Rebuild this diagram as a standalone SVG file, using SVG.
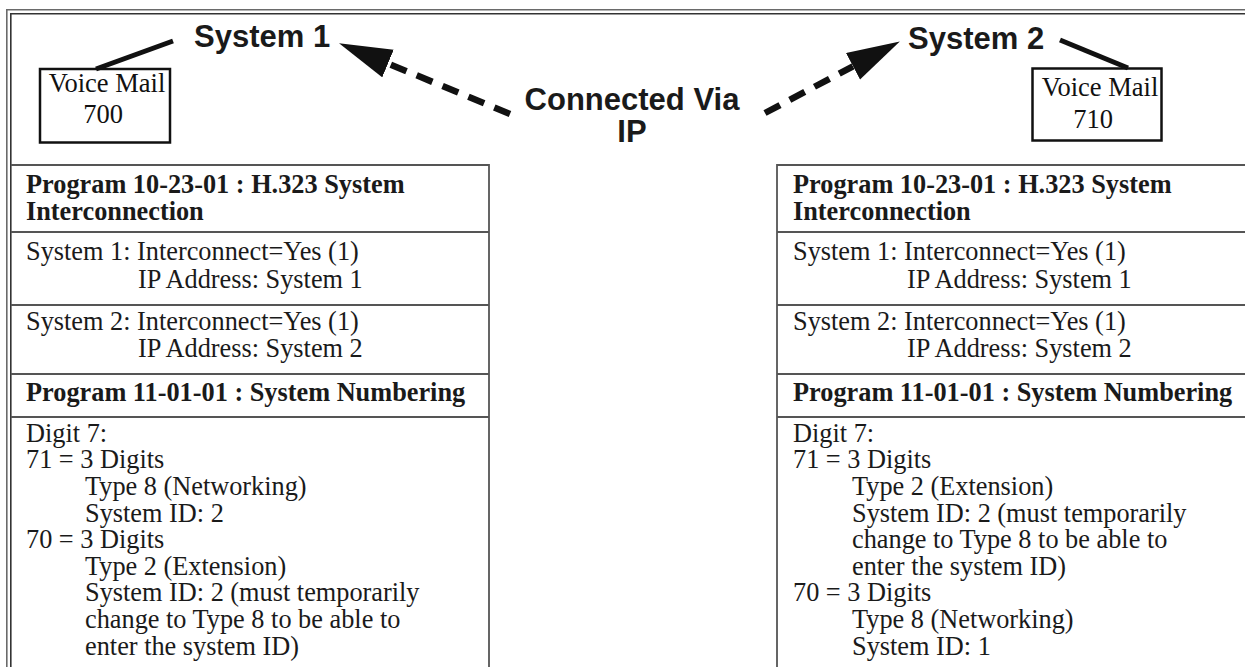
<svg xmlns="http://www.w3.org/2000/svg" width="1245" height="667" viewBox="0 0 1245 667">
<defs>
<style>
.frameO{fill:none;stroke:#6a6a6a;stroke-width:1.6}
.frameI{fill:none;stroke:#333;stroke-width:1.6}
.tl{fill:none;stroke:#555;stroke-width:1.8}
.box{fill:#fff;stroke:#111;stroke-width:2.5}
.vm{font-family:"Liberation Serif","Times New Roman",serif;font-size:26.5px;fill:#111}
.big{font-family:"Liberation Sans",Arial,Helvetica,sans-serif;font-weight:bold;font-size:31px;fill:#1a1a1a}
.tx{font-family:"Liberation Serif","Times New Roman",serif;font-size:26.3px;fill:#1a1a1a}
.hd{font-family:"Liberation Serif","Times New Roman",serif;font-size:26.3px;font-weight:bold;fill:#1a1a1a}
.solid{stroke:#111;stroke-width:5;fill:none}
.dash{stroke:#111;stroke-width:6.5;fill:none;stroke-dasharray:17 11}
</style>
<marker id="ah" markerUnits="userSpaceOnUse" markerWidth="60" markerHeight="40" refX="0" refY="15" orient="auto" viewBox="0 0 60 40">
<path d="M0,0 L53,15 L0,30 z" fill="#111"/>
</marker>
</defs>
<rect width="1245" height="667" fill="#fff"/>
<g id="frame">
<path class="frameO" d="M6.8,667 V9.8 H1245"/>
<path class="frameI" d="M10.8,667 V13.8 H1245"/>
</g>
<g id="vm1">
<rect class="box" x="40" y="69" width="130" height="73.5"/>
<text class="vm" x="107" y="92" text-anchor="middle">Voice Mail</text>
<text class="vm" x="103" y="123" text-anchor="middle">700</text>
</g>
<g id="vm2">
<rect class="box" x="1032.5" y="68.5" width="129" height="72"/>
<text class="vm" x="1100" y="96" text-anchor="middle">Voice Mail</text>
<text class="vm" x="1093" y="128" text-anchor="middle">710</text>
</g>
<g id="sys1"><text class="big" x="194" y="47">System 1</text></g>
<g id="sys2"><text class="big" x="908" y="49">System 2</text></g>
<g id="ip"><text class="big" x="632" y="110" text-anchor="middle">Connected Via</text>
<text class="big" x="632" y="142" text-anchor="middle">IP</text></g>
<g id="connectors">
<line class="solid" x1="96" y1="69" x2="173" y2="41"/>
<line class="solid" x1="1060" y1="40" x2="1128" y2="68"/>
<path class="dash" d="M510,114 L388,63.5" marker-end="url(#ah)"/>
<path class="dash" d="M765,113 L853,66.3" marker-end="url(#ah)"/>
</g>
<g id="table-left">
<path class="tl" d="M10.8,165 H489 V667 M10.8,232 H489 M10.8,305 H489 M10.8,374 H489 M10.8,417 H489"/>
<text class="hd" x="26" y="193">Program 10-23-01 : H.323 System</text>
<text class="hd" x="26" y="219.5">Interconnection</text>
<text class="tx" x="26" y="260">System 1: Interconnect=Yes (1)</text>
<text class="tx" x="138" y="288">IP Address: System 1</text>
<text class="tx" x="26" y="330">System 2: Interconnect=Yes (1)</text>
<text class="tx" x="138" y="357">IP Address: System 2</text>
<text class="hd" x="26" y="401">Program 11-01-01 : System Numbering</text>
<text class="tx" x="26" y="441.7">Digit 7:</text>
<text class="tx" x="26" y="468.3">71 = 3 Digits</text>
<text class="tx" x="85" y="494.9">Type 8 (Networking)</text>
<text class="tx" x="85" y="521.5">System ID: 2</text>
<text class="tx" x="26" y="548.1">70 = 3 Digits</text>
<text class="tx" x="85" y="574.7">Type 2 (Extension)</text>
<text class="tx" x="85" y="601.3">System ID: 2 (must temporarily</text>
<text class="tx" x="85" y="627.9">change to Type 8 to be able to</text>
<text class="tx" x="85" y="654.5">enter the system ID)</text>
</g>
<g id="table-right">
<path class="tl" d="M777,667 V165 H1245 M777,232 H1245 M777,305 H1245 M777,374 H1245 M777,417 H1245"/>
<text class="hd" x="793" y="193">Program 10-23-01 : H.323 System</text>
<text class="hd" x="793" y="219.5">Interconnection</text>
<text class="tx" x="793" y="260">System 1: Interconnect=Yes (1)</text>
<text class="tx" x="907" y="288">IP Address: System 1</text>
<text class="tx" x="793" y="330">System 2: Interconnect=Yes (1)</text>
<text class="tx" x="907" y="357">IP Address: System 2</text>
<text class="hd" x="793" y="401">Program 11-01-01 : System Numbering</text>
<text class="tx" x="793" y="441.7">Digit 7:</text>
<text class="tx" x="793" y="468.3">71 = 3 Digits</text>
<text class="tx" x="852" y="494.9">Type 2 (Extension)</text>
<text class="tx" x="852" y="521.5">System ID: 2 (must temporarily</text>
<text class="tx" x="852" y="548.1">change to Type 8 to be able to</text>
<text class="tx" x="852" y="574.7">enter the system ID)</text>
<text class="tx" x="793" y="601.3">70 = 3 Digits</text>
<text class="tx" x="852" y="627.9">Type 8 (Networking)</text>
<text class="tx" x="852" y="654.5">System ID: 1</text>
</g>
</svg>
